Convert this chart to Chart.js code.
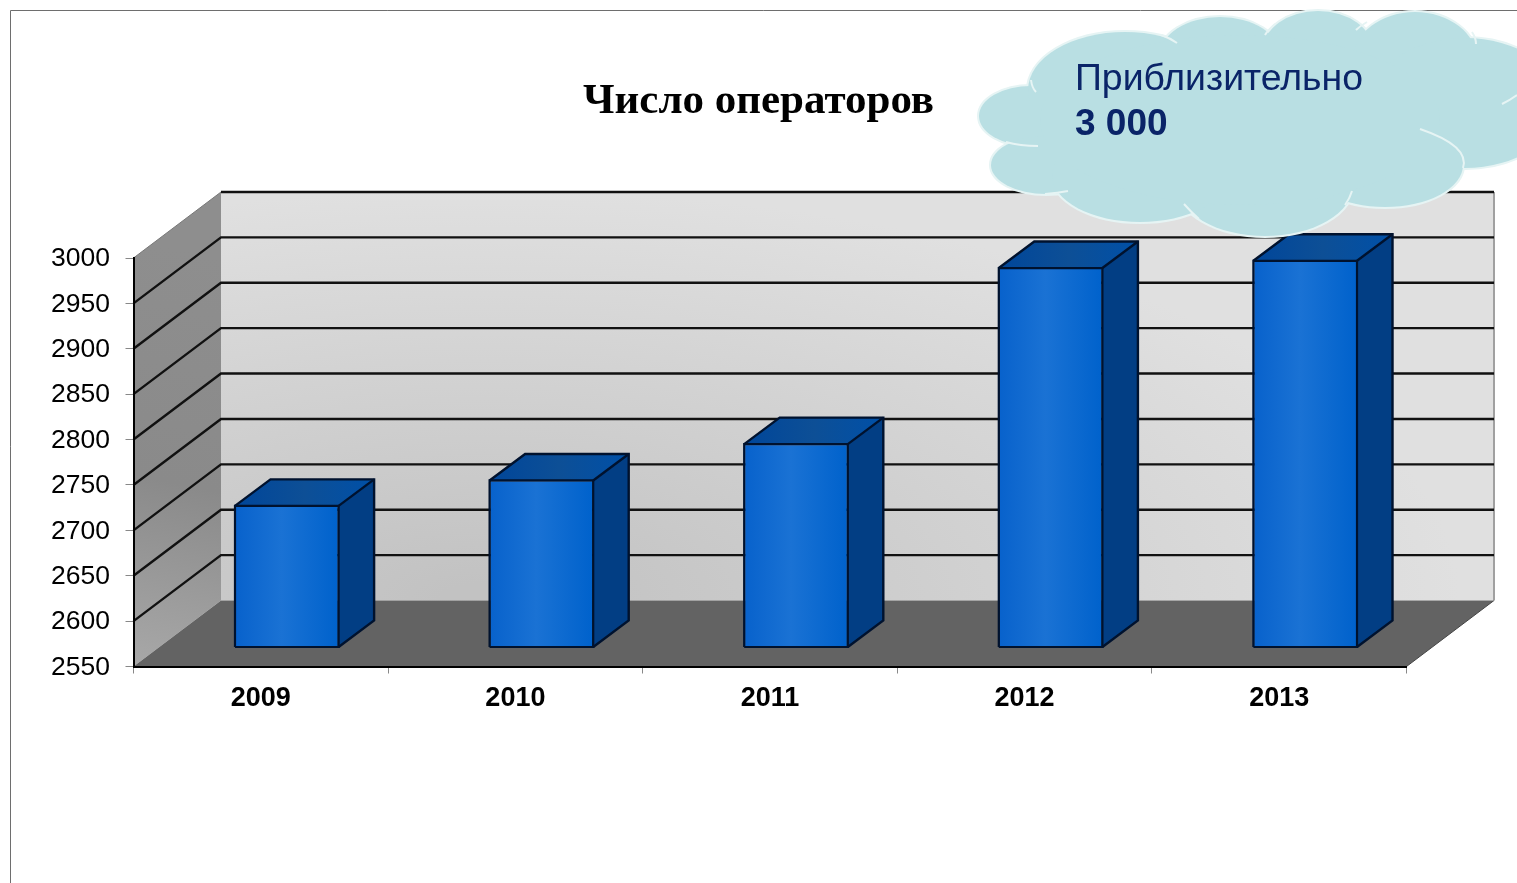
<!DOCTYPE html>
<html>
<head>
<meta charset="utf-8">
<title>Число операторов</title>
<script src="https://cdn.jsdelivr.net/npm/chart.js@4"></script>
<style>
    html, body { margin: 0; padding: 0; background: #fff; }
    #wrap { width: 1517px; height: 883px; }
</style>
</head>
<body>
<div id="wrap"><canvas id="operatorsChart"></canvas></div>
<script>
const years = ['2009', '2010', '2011', '2012', '2013'];
const operators = [2706, 2734, 2774, 2968, 2976];
const axisMin = 2550;
const axisMax = 3000;
const axisStep = 50;
const chartTitle = 'Число операторов';
const cloudLines = ['Приблизительно', '3 000'];

// depth of the fake 3d box and of each bar
const wallDx = 87.5, wallDy = 66;
const barDx = 35.5, barDy = 26.5;
const barShiftX = 26, barShiftY = 19;

// cloud lobes: cx, cy, rx, ry
const lobes = [
    [1031, 116, 52, 30], [1046, 165, 55, 29], [1125, 90, 97, 58],
    [1220, 55, 60, 38], [1318, 50, 55, 39], [1415, 60, 62, 48],
    [1465, 103, 95, 65], [1385, 165, 78, 42], [1265, 185, 88, 51],
    [1140, 175, 88, 47], [1240, 120, 200, 85]
];
// short inner strokes of the cloud outline
const cloudTips = [
    [1161, 35, 1170, 38, 1177, 43], [1265, 35, 1268, 30, 1275, 24],
    [1356, 30, 1360, 26, 1367, 22], [1476, 44, 1476, 38, 1472, 32],
    [1006, 142, 1020, 146, 1038, 146], [1045, 194, 1058, 193, 1068, 191],
    [1036, 92, 1032, 88, 1031, 80], [1184, 204, 1192, 213, 1199, 219],
    [1352, 191, 1350, 198, 1345, 205], [1420, 129, 1470, 146, 1463, 168],
    [1502, 104, 1510, 100, 1517, 95]
];

function poly(ctx, pts, fill) {
    ctx.beginPath();
    pts.forEach((p, i) => i ? ctx.lineTo(p[0], p[1]) : ctx.moveTo(p[0], p[1]));
    ctx.closePath();
    ctx.fillStyle = fill;
    ctx.fill();
}

function line(ctx, pts, color, width) {
    ctx.beginPath();
    pts.forEach((p, i) => i ? ctx.lineTo(p[0], p[1]) : ctx.moveTo(p[0], p[1]));
    ctx.strokeStyle = color;
    ctx.lineWidth = width;
    ctx.stroke();
}

const box3d = {
    id: 'box3d',
    afterLayout(chart) {
        // title is centred on the whole canvas, not on the padded area
        chart.titleBlock.left = 0;
        chart.titleBlock.right = chart.width;
    },
    beforeDraw(chart) {
        const ctx = chart.ctx;
        const { left, right, top, bottom } = chart.chartArea;
        const y = chart.scales.y;
        const backL = left + wallDx, backR = right + wallDx;
        ctx.save();

        // thin page frame
        line(ctx, [[10.5, 883], [10.5, 10.5], [1517, 10.5]], '#6e6e6e', 1);

        // back wall: dark spot low on the left, light towards top and right
        ctx.beginPath();
        ctx.rect(backL, top - wallDy, backR - backL, bottom - top);
        ctx.save();
        ctx.translate(480, bottom - wallDy);
        ctx.scale(1, 0.42);
        const backGrad = ctx.createRadialGradient(0, 0, 40, 0, 0, 980);
        backGrad.addColorStop(0, '#c2c2c2');
        backGrad.addColorStop(1, '#e0e0e0');
        ctx.fillStyle = backGrad;
        ctx.fill();
        ctx.restore();

        const sideGrad = ctx.createLinearGradient(left, bottom, backL, top);
        sideGrad.addColorStop(0, '#a8a8a8');
        sideGrad.addColorStop(0.45, '#8a8a8a');
        sideGrad.addColorStop(1, '#8e8e8e');
        poly(ctx, [[left, top], [backL, top - wallDy], [backL, bottom - wallDy], [left, bottom]], sideGrad);

        poly(ctx, [[left, bottom], [backL, bottom - wallDy], [backR, bottom - wallDy], [right, bottom]], '#636363');
        line(ctx, [[right, bottom], [backR, bottom - wallDy]], '#444', 1);
        line(ctx, [[backR, top - wallDy], [backR, bottom - wallDy]], '#a0a0a0', 2);
        line(ctx, [[left, top], [backL, top - wallDy]], '#777', 1);

        y.ticks.forEach(t => {
            if (t.value === axisMin) return;
            const py = y.getPixelForValue(t.value);
            if (t.value === axisMax) {
                line(ctx, [[backL, py - wallDy], [backR, py - wallDy]], '#111', 2.4);
            } else {
                line(ctx, [[left, py], [backL, py - wallDy], [backR, py - wallDy]], '#111', 2.4);
            }
        });
        ctx.restore();
    },
    beforeDatasetDraw(chart, args) {
        const ctx = chart.ctx;
        ctx.save();
        ctx.translate(barShiftX, -barShiftY);
        args.meta.data.forEach(bar => {
            const l = bar.x - bar.width / 2, r = bar.x + bar.width / 2;
            const t = bar.y, b = bar.base;
            const topGrad = ctx.createLinearGradient(l, 0, r + barDx, 0);
            topGrad.addColorStop(0, '#00469a');
            topGrad.addColorStop(0.5, '#0d4f96');
            topGrad.addColorStop(1, '#0050a8');
            poly(ctx, [[l, t], [l + barDx, t - barDy], [r + barDx, t - barDy], [r, t]], topGrad);
            poly(ctx, [[r, t], [r + barDx, t - barDy], [r + barDx, b - barDy], [r, b]], '#023e84');
            line(ctx, [[l, t], [l + barDx, t - barDy], [r + barDx, t - barDy], [r + barDx, b - barDy], [r, b]], '#00122e', 2.4);
            line(ctx, [[r, t], [r + barDx, t - barDy]], '#00122e', 2.4);
        });
    },
    afterDatasetDraw(chart, args) {
        const ctx = chart.ctx;
        // front edge, a bit heavier than the bar border alone
        args.meta.data.forEach(bar => {
            const l = bar.x - bar.width / 2, r = bar.x + bar.width / 2;
            line(ctx, [[l, bar.base], [l, bar.y], [r, bar.y], [r, bar.base], [l, bar.base]], '#00122e', 2.2);
        });
        ctx.restore();
    },
    afterDraw(chart) {
        const ctx = chart.ctx;
        ctx.save();
        ctx.beginPath();
        ctx.rect(0, 0, 1517, 883);
        ctx.clip();

        // outline first, then the fill on top, leaves only the outer edge
        ctx.strokeStyle = '#e6f4f4';
        ctx.lineWidth = 4;
        lobes.forEach(e => {
            ctx.beginPath();
            ctx.ellipse(e[0], e[1], e[2], e[3], 0, 0, Math.PI * 2);
            ctx.stroke();
        });
        ctx.fillStyle = '#b9dfe3';
        lobes.forEach(e => {
            ctx.beginPath();
            ctx.ellipse(e[0], e[1], e[2], e[3], 0, 0, Math.PI * 2);
            ctx.fill();
        });
        ctx.strokeStyle = '#e6f4f4';
        ctx.lineWidth = 2;
        cloudTips.forEach(q => {
            ctx.beginPath();
            ctx.moveTo(q[0], q[1]);
            ctx.quadraticCurveTo(q[2], q[3], q[4], q[5]);
            ctx.stroke();
        });

        ctx.fillStyle = '#0a2468';
        ctx.textAlign = 'left';
        ctx.textBaseline = 'alphabetic';
        ctx.font = '37.4px "Liberation Sans", Arial, sans-serif';
        ctx.fillText(cloudLines[0], 1075, 90);
        ctx.font = 'bold 37px "Liberation Sans", Arial, sans-serif';
        ctx.fillText(cloudLines[1], 1075, 135);
        ctx.restore();
    }
};

function barFill(c) {
    const x = c.chart.scales.x;
    const cx = x ? x.getPixelForValue(c.dataIndex) : NaN;
    if (!Number.isFinite(cx)) return '#0f6ad0';
    const g = c.chart.ctx.createLinearGradient(cx - 51, 0, cx + 51, 0);
    g.addColorStop(0, '#0862cc');
    g.addColorStop(0.45, '#1a72d4');
    g.addColorStop(1, '#0062cc');
    return g;
}

new Chart(document.getElementById('operatorsChart').getContext('2d'), {
    type: 'bar',
    data: {
        labels: years,
        datasets: [{
            label: chartTitle,
            data: operators,
            base: axisMin,
            backgroundColor: barFill,
            borderColor: '#00122e',
            borderWidth: 1,
            borderSkipped: false,
            barPercentage: 0.407,
            categoryPercentage: 1,
            clip: false
        }]
    },
    plugins: [box3d],
    options: {
        responsive: true,
        maintainAspectRatio: false,
        animation: false,
        layout: { padding: { left: 0, right: 110.5, top: 0, bottom: 0 } },
        plugins: {
            legend: { display: false },
            tooltip: { enabled: false },
            title: {
                display: true,
                text: chartTitle,
                color: '#000',
                font: { family: '"Liberation Serif", "Times New Roman", serif', size: 43, weight: 'bold' },
                padding: { top: 76, bottom: 130.4 }
            }
        },
        scales: {
            x: {
                offset: true,
                afterFit(scale) { scale.height = 216.5; },
                border: { display: true, color: '#000', width: 2 },
                grid: { offset: true, drawOnChartArea: false, drawTicks: true, tickLength: 7, color: '#888' },
                ticks: { color: '#000', padding: 9, maxRotation: 0, font: { family: '"Liberation Sans", Arial, sans-serif', size: 27, weight: 'bold' } }
            },
            y: {
                min: axisMin,
                max: axisMax,
                afterFit(scale) { scale.width = 133.5; },
                border: { display: true, color: '#000', width: 2 },
                grid: { drawOnChartArea: false, drawTicks: true, tickLength: 8, color: '#888' },
                ticks: { stepSize: axisStep, color: '#000', padding: 15.5, labelOffset: 1, callback: v => String(v), font: { family: '"Liberation Sans", Arial, sans-serif', size: 26.5 } }
            }
        }
    }
});
</script>
</body>
</html>
